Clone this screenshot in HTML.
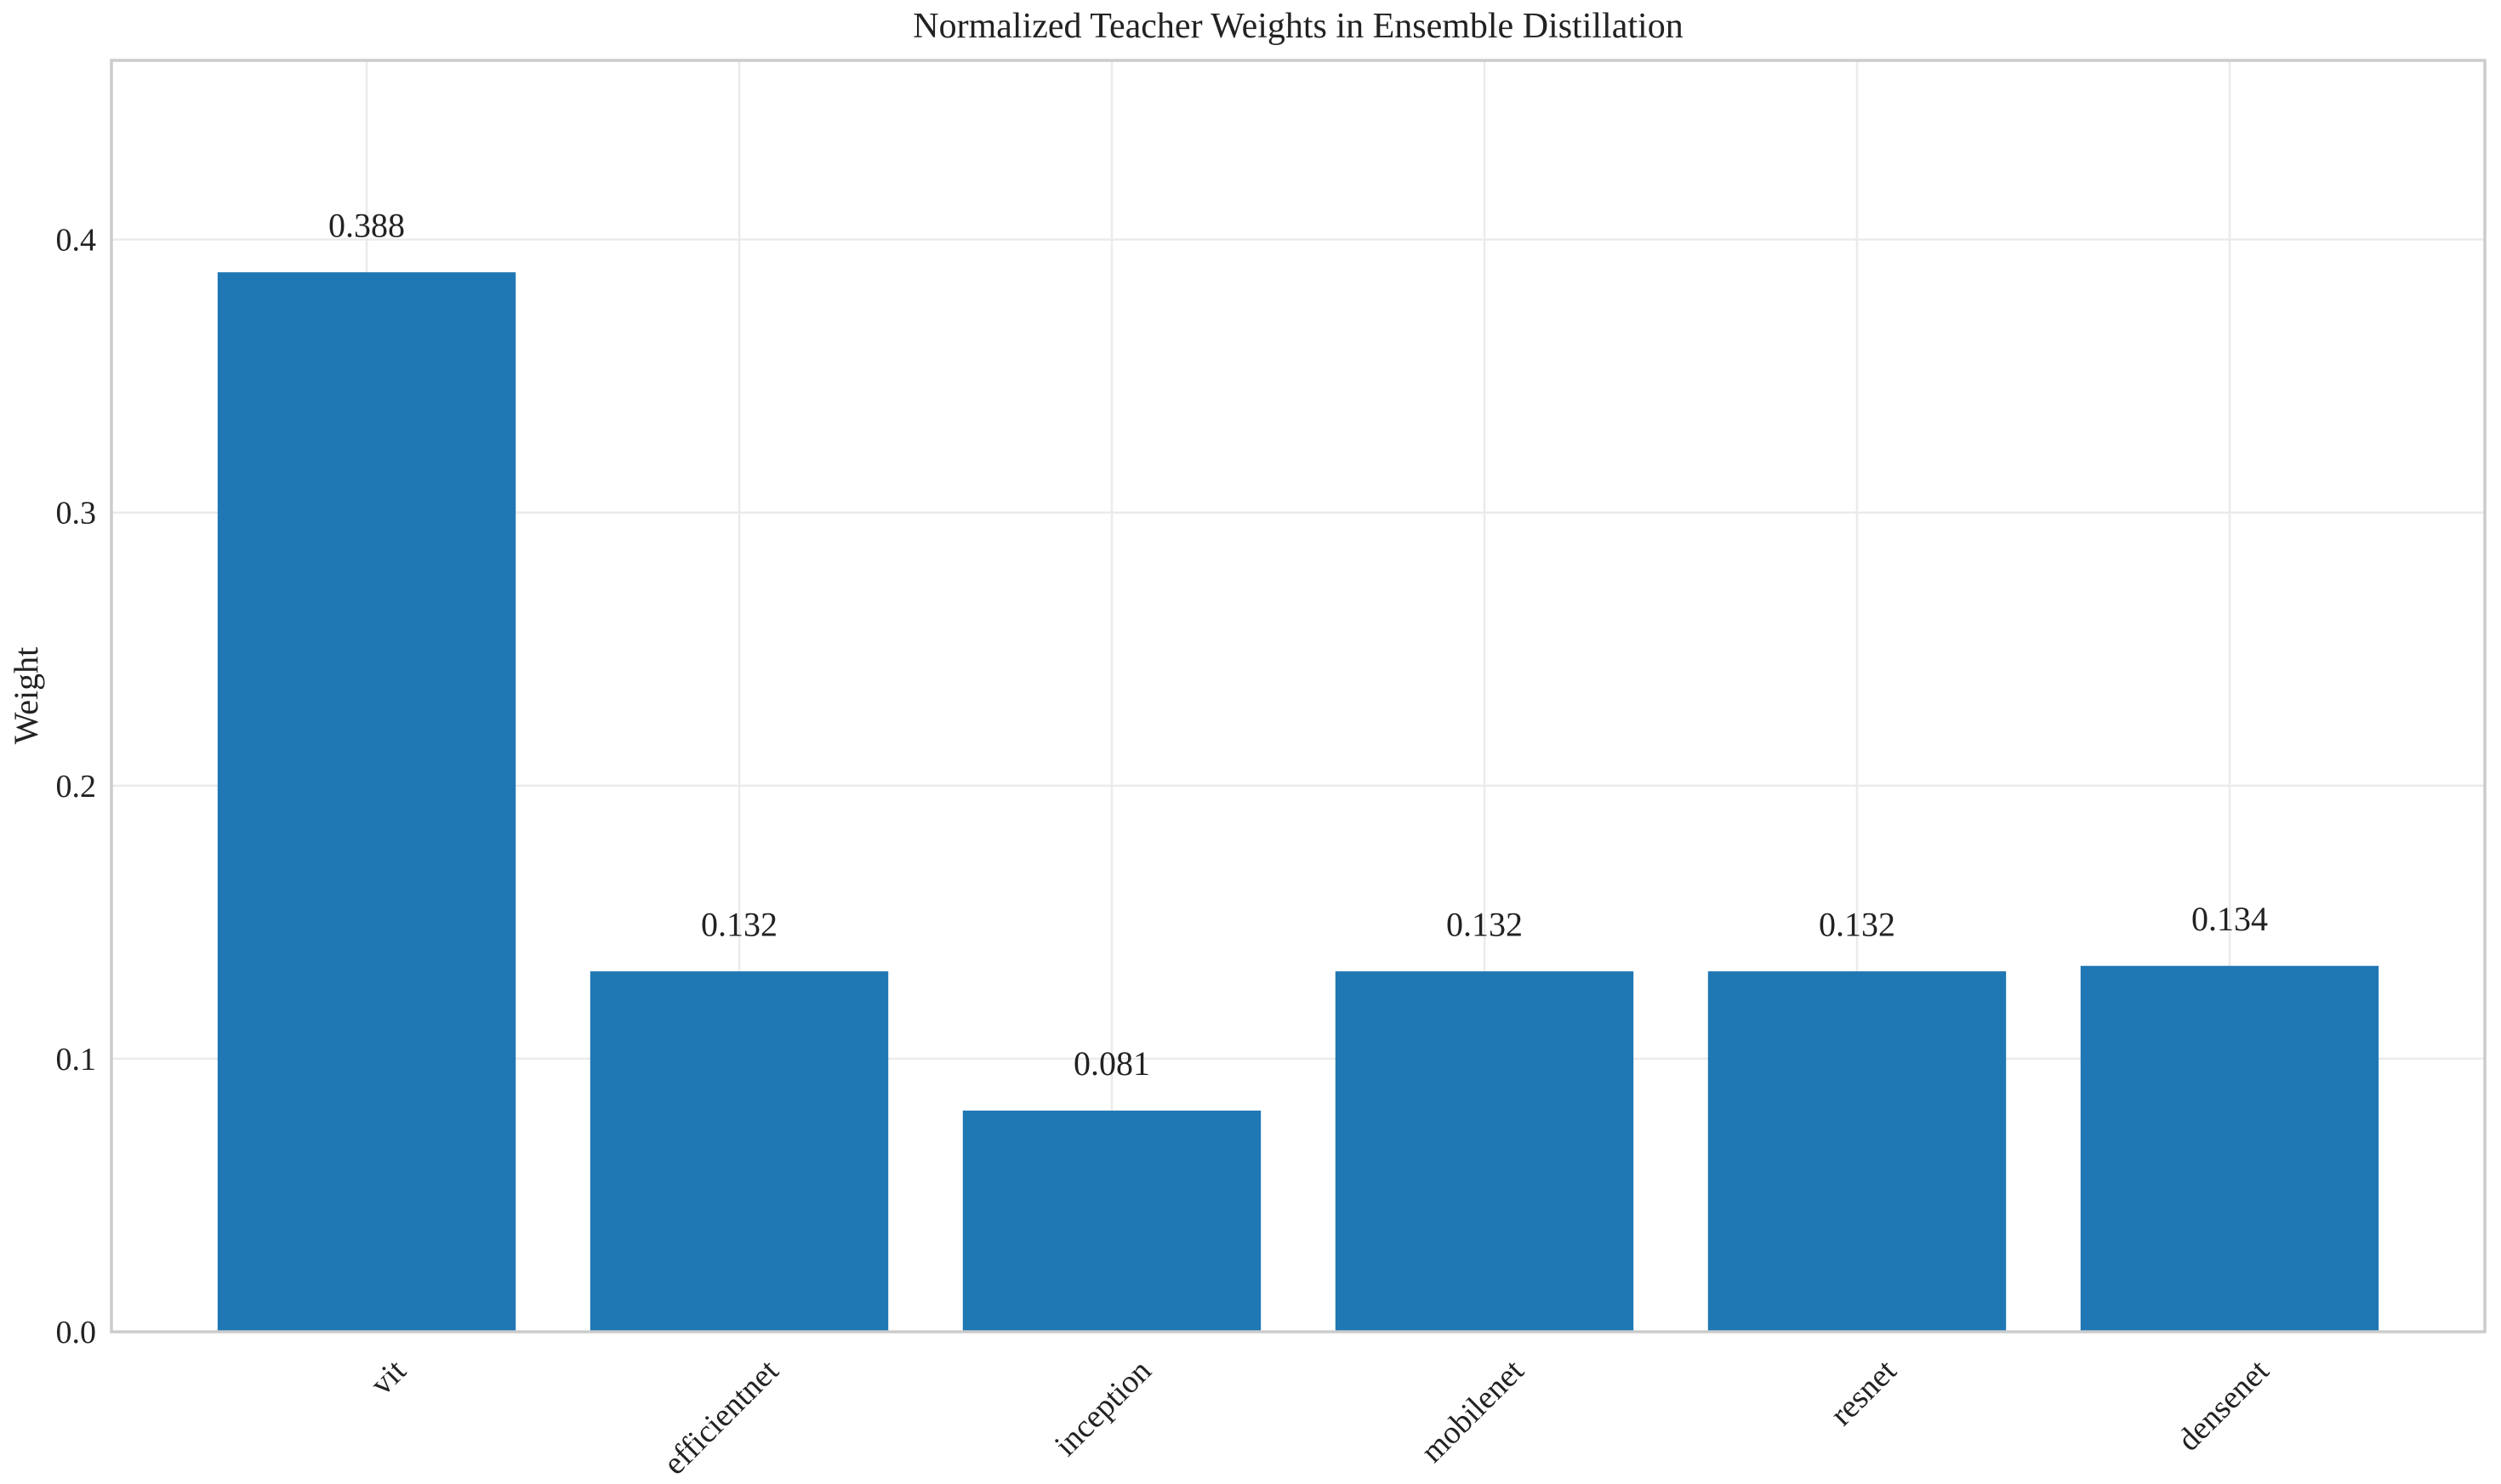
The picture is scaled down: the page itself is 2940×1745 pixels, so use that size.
<!DOCTYPE html>
<html><head><meta charset="utf-8"><style>
html,body{margin:0;padding:0;background:#fff}
svg text{font-family:"Liberation Serif",serif;fill:#222}
</style></head><body>
<svg id="chart" width="2940" height="1740" xmlns="http://www.w3.org/2000/svg">
<rect width="2940" height="1740" fill="#fff"/>
<g id="grid"></g>
<g id="bars"></g>
<g id="labels"></g>
<g id="xticks"></g>
<g id="yticks"></g>
<rect x="131" y="71" width="2790" height="1495" fill="none" stroke="#cccccc" stroke-width="3.5"/>
<text x="1526" y="44" font-size="42" text-anchor="middle">Normalized Teacher Weights in Ensemble Distillation</text>
<text transform="translate(44,818) rotate(-90)" font-size="40" text-anchor="middle">Weight</text>
</svg>
<script>
const categories = ["vit","efficientnet","inception","mobilenet","resnet","densenet"];
const weights = [0.388,0.132,0.081,0.132,0.132,0.134];
const valueLabels = ["0.388","0.132","0.081","0.132","0.132","0.134"];
const yTicks = [0.0,0.1,0.2,0.3,0.4];
const yTickLabels = ["0.0","0.1","0.2","0.3","0.4"];

const L=131,R=2921,T=71,B=1566;
const yMax=Math.max(...weights)*1.2;
const xMin=-0.685,xMax=categories.length-1+0.685;
const xs=i=>L+(i-xMin)/(xMax-xMin)*(R-L);
const ys=v=>B-(v/yMax)*(B-T);
const bw=0.8*(R-L)/(xMax-xMin);
const NS="http://www.w3.org/2000/svg";
function mk(tag,attrs,parent){const e=document.createElementNS(NS,tag);for(const k in attrs)e.setAttribute(k,attrs[k]);document.getElementById(parent).appendChild(e);return e;}

yTicks.forEach((t,i)=>{
  const g=mk("line",{x1:L,x2:R,y1:ys(t),y2:ys(t),stroke:"#ebebeb","stroke-width":2.5},"grid");
  
  
  const tx=mk("text",{x:L-18,y:ys(t)+13,"font-size":38,"text-anchor":"end"},"yticks");
  tx.textContent=yTickLabels[i];
  
  
});
categories.forEach((c,i)=>{
  const g=mk("line",{x1:xs(i),x2:xs(i),y1:T,y2:B,stroke:"#ebebeb","stroke-width":2.5},"grid");
  
  
});
categories.forEach((c,i)=>{
  const r=mk("rect",{x:xs(i)-bw/2,y:ys(weights[i]),width:bw,height:B-ys(weights[i]),fill:"#1f77b4"},"bars");
  
  
  const t=mk("text",{x:xs(i),y:ys(weights[i]+0.013),"font-size":40,"text-anchor":"middle"},"labels");
  t.textContent=valueLabels[i];
  
  
  const x=xs(i)+28,y=B+28;
  const k=mk("text",{transform:`translate(${x},${y}) rotate(-45)`,"font-size":38,"text-anchor":"end",dy:"0.75em"},"xticks");
  k.textContent=c;
  
  
});
</script>
</body></html>
